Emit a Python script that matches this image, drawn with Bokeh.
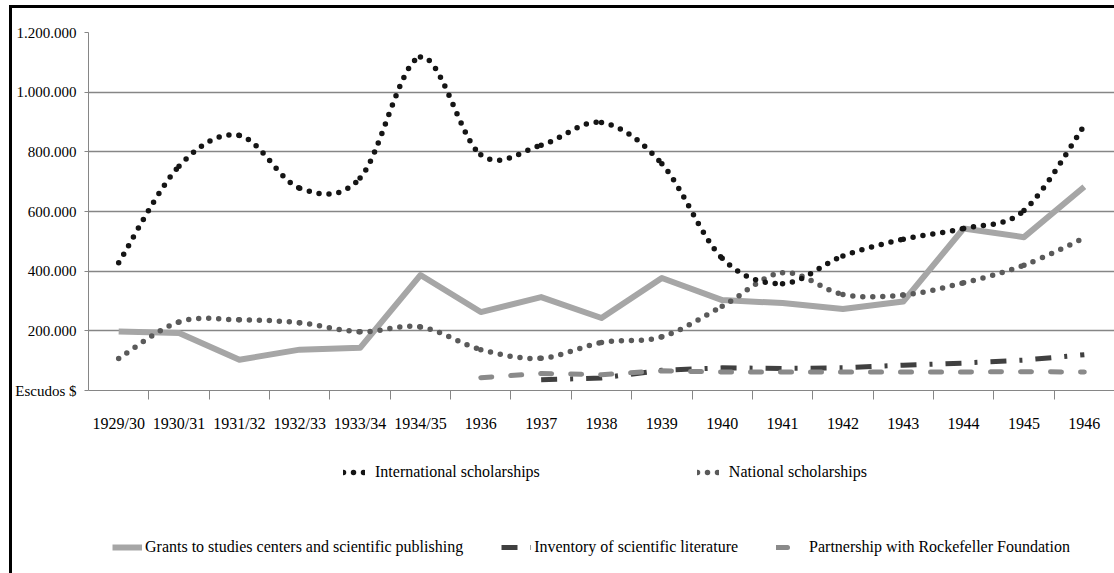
from bokeh.plotting import figure
from bokeh.layouts import column
from bokeh.models import Range1d, FixedTicker, Legend, LegendItem, ColumnDataSource
from bokeh.embed import file_html
from bokeh.resources import INLINE

years = ["1929/30", "1930/31", "1931/32", "1932/33", "1933/34", "1934/35", "1936", "1937",
         "1938", "1939", "1940", "1941", "1942", "1943", "1944", "1945", "1946"]
international = [428000, 752000, 855000, 678000, 712000, 1118000, 790000, 822000, 898000,
                 760000, 443000, 358000, 451000, 507000, 543000, 603000, 888000]
national = [107000, 230000, 237000, 227000, 197000, 213000, 137000, 108000, 161000,
            180000, 282000, 395000, 322000, 320000, 361000, 420000, 511000]
grants = [198000, 193000, 103000, 137000, 143000, 387000, 263000, 313000, 243000,
          377000, 303000, 293000, 273000, 298000, 543000, 514000, 683000]
inventory_years = ["1937", "1938", "1939", "1940", "1941", "1942", "1943", "1944", "1945", "1946"]
inventory = [36000, 42000, 68000, 76000, 74000, 76000, 85000, 92000, 102000, 120000]
rockefeller_years = ["1936", "1937", "1938", "1939", "1940", "1941", "1942", "1943", "1944", "1945", "1946"]
rockefeller = [43000, 57000, 53000, 66000, 62000, 62000, 62000, 62000, 62000, 63000, 62000]

y_ticks = [0, 200000, 400000, 600000, 800000, 1000000, 1200000]
y_labels = ["Escudos $", "200.000", "400.000", "600.000", "800.000", "1.000.000", "1.200.000"]

series_names = ["International scholarships", "National scholarships",
                "Grants to studies centers and scientific publishing",
                "Inventory of scientific literature", "Partnership with Rockefeller Foundation"]

FONT = "Liberation Serif"

STYLE_INT = dict(line_color="#151515", line_width=5.5, line_dash="0 10", line_cap="round")
STYLE_NAT = dict(line_color="#5a5a5a", line_width=5.5, line_dash="0 10", line_cap="round")
STYLE_GRA = dict(line_color="#a6a6a6", line_width=6, line_join="round")
STYLE_INV = dict(line_color="#404040", line_width=5, line_dash="16 13 3 13")
STYLE_ROC = dict(line_color="#8a8a8a", line_width=5, line_dash="11 19", line_cap="round")


def xpos(label):
    return years.index(label) + 0.5


def smooth_source(vals):
    xs = [i + 0.5 for i in range(len(vals))]
    n = len(vals)
    d = dict(x0=[], y0=[], x1=[], y1=[], cx0=[], cy0=[], cx1=[], cy1=[])
    for i in range(n - 1):
        a, b = max(i - 1, 0), min(i + 2, n - 1)
        d["x0"].append(xs[i]); d["y0"].append(vals[i])
        d["x1"].append(xs[i + 1]); d["y1"].append(vals[i + 1])
        d["cx0"].append(xs[i] + (xs[i + 1] - xs[a]) / 6)
        d["cy0"].append(vals[i] + (vals[i + 1] - vals[a]) / 6)
        d["cx1"].append(xs[i + 1] - (xs[b] - xs[i]) / 6)
        d["cy1"].append(vals[i + 1] - (vals[b] - vals[i]) / 6)
    return ColumnDataSource(d)


W = 1102
p = figure(width=W, height=432, output_backend="svg", toolbar_location=None,
           x_range=Range1d(0, len(years)), y_range=Range1d(0, 1200000),
           min_border_left=76, min_border_top=24, min_border_bottom=50, min_border_right=0)
p.outline_line_color = None
p.background_fill_color = "white"
p.border_fill_color = "white"

# axes
p.xaxis.ticker = FixedTicker(ticks=[i + 0.5 for i in range(len(years))],
                             minor_ticks=list(range(1, len(years))))
p.xaxis.major_label_overrides = {i + 0.5: y for i, y in enumerate(years)}
p.xaxis.major_tick_out = 0
p.xaxis.major_tick_in = 0
p.xaxis.minor_tick_out = 9
p.xaxis.minor_tick_in = 0
p.xaxis.minor_tick_line_color = "#868686"
p.xaxis.axis_line_color = "#868686"
p.xaxis.major_label_standoff = 15
p.xaxis.major_label_text_font = FONT
p.xaxis.major_label_text_font_size = "16px"
p.xaxis.major_label_text_color = "black"

p.yaxis.ticker = FixedTicker(ticks=y_ticks, minor_ticks=[])
p.yaxis.major_label_overrides = {t: l for t, l in zip(y_ticks, y_labels)}
p.yaxis.axis_line_color = "#868686"
p.yaxis.major_tick_line_color = "#868686"
p.yaxis.major_tick_out = 4
p.yaxis.major_tick_in = 0
p.yaxis.major_label_standoff = 8
p.yaxis.major_label_text_font = FONT
p.yaxis.major_label_text_font_size = "15px"
p.yaxis.major_label_text_color = "black"

p.xgrid.grid_line_color = None
p.ygrid.grid_line_color = "#868686"
p.ygrid.grid_line_width = 1.3

# series
BZ = dict(x0="x0", y0="y0", x1="x1", y1="y1", cx0="cx0", cy0="cy0", cx1="cx1", cy1="cy1")
p.line([xpos(y) for y in years], grants, **STYLE_GRA)
p.line([xpos(y) for y in inventory_years], inventory, **STYLE_INV)
p.line([xpos(y) for y in rockefeller_years], rockefeller, **STYLE_ROC)
p.bezier(source=smooth_source(national), **BZ, **STYLE_NAT)
p.bezier(source=smooth_source(international), **BZ, **STYLE_INT)

# legend panel (its frame is aligned with the chart frame by the column layout);
# the series are repeated here only to carry the legend glyphs, and fall outside its range
lg = figure(width=W, height=133, output_backend="svg", toolbar_location=None,
            x_range=Range1d(0, 1), y_range=Range1d(-2, -1),
            x_axis_location=None, y_axis_location=None,
            min_border_left=0, min_border_right=0, min_border_top=0, min_border_bottom=0)
lg.outline_line_color = None
lg.grid.visible = False
lg.border_fill_color = "white"
d_int = lg.line([xpos(y) for y in years], international, **STYLE_INT)
d_nat = lg.line([xpos(y) for y in years], national, **STYLE_NAT)
d_gra = lg.line([xpos(y) for y in years], grants, **STYLE_GRA)
d_inv = lg.line([xpos(y) for y in inventory_years], inventory, **STYLE_INV)
d_roc = lg.line([xpos(y) for y in rockefeller_years], rockefeller, **STYLE_ROC)

common = dict(orientation="horizontal", glyph_height=20, label_height=20, padding=0, margin=0,
              border_line_color=None, background_fill_alpha=0,
              label_text_font=FONT, label_text_font_size="16px", label_text_color="black")
leg1 = Legend(items=[LegendItem(label=series_names[0], renderers=[d_int]),
                     LegendItem(label=series_names[1], renderers=[d_nat])],
              location=(255, 91), spacing=157, glyph_width=22, label_standoff=10, **common)
leg2 = Legend(items=[LegendItem(label=series_names[2], renderers=[d_gra]),
                     LegendItem(label=series_names[3], renderers=[d_inv]),
                     LegendItem(label=series_names[4], renderers=[d_roc])],
              location=(24, 16), spacing=38, glyph_width=30, label_standoff=3, **common)
lg.add_layout(leg1, "center")
lg.add_layout(leg2, "center")

layout = column(p, lg, spacing=0)
layout.styles = {"margin-left": "9px", "margin-top": "5px",
                 "border-style": "solid", "border-color": "black", "border-width": "3px 0px 0px 3px"}

open("out.html", "w").write(file_html(layout, INLINE))
